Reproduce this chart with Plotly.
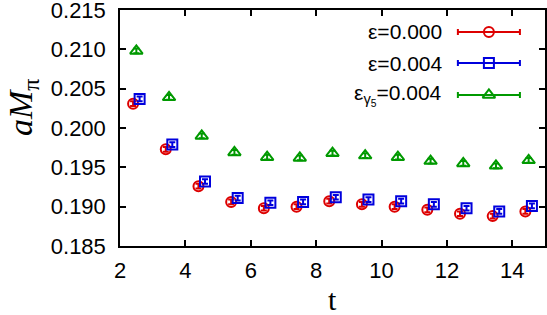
import plotly.graph_objects as go

# ---- data ----
t_green = [2.5, 3.5, 4.5, 5.5, 6.5, 7.5, 8.5, 9.5, 10.5, 11.5, 12.5, 13.5, 14.5]
t_red = [2.4, 3.4, 4.4, 5.4, 6.4, 7.4, 8.4, 9.4, 10.4, 11.4, 12.4, 13.4, 14.4]
t_blue = [2.6, 3.6, 4.6, 5.6, 6.6, 7.6, 8.6, 9.6, 10.6, 11.6, 12.6, 13.6, 14.6]

m_eps0 = [0.2031, 0.1973, 0.1926, 0.1906, 0.1898, 0.1900, 0.1907, 0.1903, 0.1900, 0.1896, 0.1891, 0.1888, 0.1894]
e_eps0 = [0.0003] * 13
m_eps4 = [0.2037, 0.1979, 0.1932, 0.1911, 0.1905, 0.1906, 0.1912, 0.1909, 0.1907, 0.1903, 0.1898, 0.1894, 0.1901]
e_eps4 = [0.0003] * 13
m_g5 = [0.2098, 0.2039, 0.1990, 0.1969, 0.1963, 0.1962, 0.1968, 0.1965, 0.1963, 0.1958, 0.1955, 0.1952, 0.1959]
e_g5 = [0.0003] * 13

names = ["ε=0.000", "ε=0.004", "ε<sub>γ<sub>5</sub></sub>=0.004"]
colors = ["#dd0000", "#0000dd", "#009900"]
symbols = ["circle-open", "square-open", "triangle-up-open"]
sizes = [10, 10, 11]

x_ticks = [2, 4, 6, 8, 10, 12, 14]
y_ticks = [0.185, 0.190, 0.195, 0.200, 0.205, 0.210, 0.215]

# legend sample positions (overlay axis, 0..1)
leg_x = 0.868
leg_half = 0.073
leg_y = [0.907, 0.775, 0.640]
leg_text_x = 0.762

fig = go.Figure()
series = [(t_red, m_eps0, e_eps0), (t_blue, m_eps4, e_eps4), (t_green, m_g5, e_g5)]
for (tx, my, ey), c, s, sz, n in zip(series, colors, symbols, sizes, names):
    fig.add_trace(go.Scatter(
        x=tx, y=my, mode="markers", name=n, showlegend=False,
        marker=dict(symbol=s, size=sz, color=c, line=dict(width=2, color=c)),
        error_y=dict(type="data", array=ey, color=c, thickness=2, width=3),
    ))

for i, (c, s, sz, n) in enumerate(zip(colors, symbols, sizes, names)):
    fig.add_trace(go.Scatter(
        x=[leg_x], y=[leg_y[i]], xaxis="x2", yaxis="y2", mode="markers",
        showlegend=False, hoverinfo="skip",
        marker=dict(symbol=s, size=sz, color=c, line=dict(width=2, color=c)),
        error_x=dict(type="constant", value=leg_half, color=c, thickness=2, width=3),
    ))
    fig.add_annotation(
        x=leg_text_x, y=leg_y[i], xref="paper", yref="paper", text=n,
        showarrow=False, xanchor="right", yanchor="middle",
        font=dict(family="Liberation Sans, Arial", size=21, color="black"),
    )

fig.add_annotation(
    x=-0.228, y=0.585, xref="paper", yref="paper", text="<i>aM</i><sub>π</sub>",
    showarrow=False, textangle=-90, xanchor="center", yanchor="middle",
    font=dict(family="Liberation Serif, Times New Roman", size=34, color="black"),
)
fig.add_annotation(
    x=0.5, y=-0.225, xref="paper", yref="paper", text="t",
    showarrow=False, xanchor="center", yanchor="middle",
    font=dict(family="Liberation Serif, Times New Roman", size=30, color="black"),
)

axis_common = dict(
    showline=True, linecolor="black", linewidth=1.5, mirror="ticks",
    ticks="inside", ticklen=6, tickwidth=1.5, tickcolor="black",
    showgrid=False, zeroline=False, automargin=False, ticklabeloverflow="allow",
    tickfont=dict(family="Liberation Sans, Arial", size=22, color="black"),
)

fig.update_layout(
    width=547, height=315,
    margin=dict(l=120, r=2, t=10, b=69),
    paper_bgcolor="white", plot_bgcolor="white",
    xaxis=dict(range=[2, 15], tickvals=x_ticks, ticktext=[str(v) for v in x_ticks],
               ticklabelstandoff=4, **axis_common),
    yaxis=dict(range=[0.185, 0.21501], tickvals=y_ticks,
               ticktext=[f"{v:.3f}" for v in y_ticks], ticklabelstandoff=8, **axis_common),
    xaxis2=dict(range=[0, 1], overlaying="x", visible=False, fixedrange=True),
    yaxis2=dict(range=[0, 1], overlaying="y", visible=False, fixedrange=True),
    showlegend=False,
)

fig.write_html("out.html", config={"displayModeBar": False},
               post_script="document.body.style.margin='0px';")
